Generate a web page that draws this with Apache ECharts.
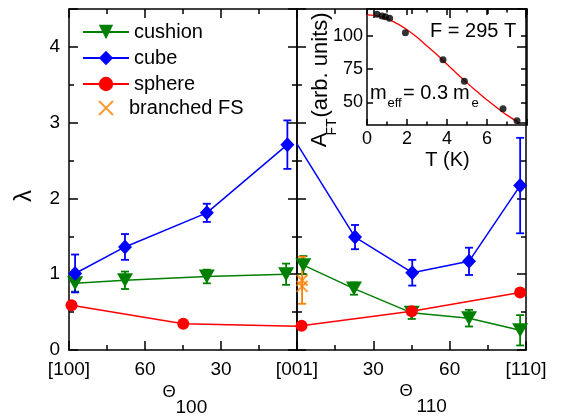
<!DOCTYPE html>
<html><head><meta charset="utf-8">
<script src="https://cdn.jsdelivr.net/npm/echarts@6/dist/echarts.min.js"></script>
<style>html,body{margin:0;padding:0;background:#fff}#c{width:569px;height:416px}</style>
</head><body><div id="c"></div>
<script>
const FONT = '"Liberation Sans", Arial, sans-serif';
// ---- Left panel (Theta_100, degrees) ----
const cushionL_theta = [87.6, 67.9, 35.6, 4.3];
const cushionL_val   = [0.88, 0.92, 0.97, 1.0];
const cushionL_err   = [0.11, 0.115, 0.09, 0.14];
const cubeL_theta = [87.6, 67.9, 35.6, 3.8];
const cubeL_val   = [1.01, 1.36, 1.81, 2.71];
const cubeL_err   = [0.25, 0.17, 0.12, 0.32];
const sphereL_theta = [89, 44.9, 0];
const sphereL_val   = [0.59, 0.345, 0.315];
const sphereL_shown = [true, true, false];
// ---- Right panel (Theta_110, degrees) ----
const cushionR_theta = [2.5, 22.4, 45.1, 67.6, 87.7];
const cushionR_val   = [1.12, 0.81, 0.49, 0.42, 0.26];
const cushionR_err   = [0.12, 0.08, 0.08, 0.11, 0.2];
const cubeR_theta = [0, 22.8, 45.3, 67.6, 87.7];
const cubeR_val   = [2.72, 1.49, 1.02, 1.17, 2.17];
const cubeR_err   = [0, 0.16, 0.17, 0.18, 0.63];
const cubeR_shown = [false, true, true, true, true];
const sphereR_theta = [1.8, 45.1, 87.7];
const sphereR_val   = [0.32, 0.51, 0.76];
const branched_theta = [2, 2];
const branched_val   = [0.92, 0.84];
const branched_err   = [0.31, 0];
// ---- Inset: A_FT vs T ----
const insetT = [0.5, 0.75, 0.92, 1.13, 1.92, 3.8, 4.87, 6.8, 7.5];
const insetA = [116.1, 114.8, 114.1, 113.1, 102.2, 82, 65.9, 45.1, 36.2];
const fitT = [0, 0.5, 1, 1.5, 2, 2.5, 3, 3.5, 4, 4.5, 5, 5.5, 6, 6.5, 7, 7.6];
const fitA = [115.6, 114.8, 112.7, 109.1, 104.5, 98.8, 92.2, 85.7, 78.5, 71.5, 64.6, 58.1, 51.8, 45.9, 40.4, 34.7];
// ---- Tick labels ----
const xLeftLabels  = {90: '[100]', 60: '60', 30: '30', 0: '[001]'};
const xRightLabels = {0: '', 30: '30', 60: '60', 90: '[110]'};
const yLabels = [0, 1, 2, 3, 4];
const insetYLabels = [50, 75, 100];
const insetXLabels = [0, 2, 4, 6];

const GREEN = '#007f00', BLUE = '#0000ff', RED = '#ff0000', ORANGE = '#ff8000';
const TRI = 'path://M0,0L16,0L8,14Z';
const XSYM = 'path://M0,0L10,10M10,0L0,10';

function pts(t, v, shown) {
  return t.map((x, i) => (shown && !shown[i]) ? {value: [x, v[i]], symbol: 'none'} : [x, v[i]]);
}
function errPts(t, v, e) { return t.map((x, i) => [x, v[i], e[i]]); }
function errRender(color) {
  return function (params, api) {
    const x = api.value(0), y = api.value(1), e = api.value(2);
    if (!e) return null;
    const a = api.coord([x, y + e]), b = api.coord([x, y - e]);
    const w = 4, st = {stroke: color, lineWidth: 1.8};
    return {type: 'group', children: [
      {type: 'line', shape: {x1: a[0], y1: a[1], x2: b[0], y2: b[1]}, style: st},
      {type: 'line', shape: {x1: a[0] - w, y1: a[1], x2: a[0] + w, y2: a[1]}, style: st},
      {type: 'line', shape: {x1: b[0] - w, y1: b[1], x2: b[0] + w, y2: b[1]}, style: st}
    ]};
  };
}
function errSeries(xi, yi, t, v, e, color) {
  return {type: 'custom', xAxisIndex: xi, yAxisIndex: yi, data: errPts(t, v, e),
    encode: {x: 0, y: 1}, renderItem: errRender(color), z: 1, silent: true};
}
function lineSeries(name, xi, yi, data, color, symbol, size) {
  return {type: 'line', name, xAxisIndex: xi, yAxisIndex: yi, data, color,
    symbol, symbolSize: size, lineStyle: {width: 1.5, color}, itemStyle: {color},
    z: 3, clip: true};
}

const axLine = {show: true, onZero: false, lineStyle: {color: '#000', width: 1.5}};
const tickStyle = {color: '#000', width: 1.5};
function xAx(grid, opts) {
  return Object.assign({type: 'value', gridIndex: grid, splitLine: {show: false},
    axisLine: axLine, axisTick: {inside: true, length: 9, lineStyle: tickStyle},
    minorTick: {show: true, splitNumber: 2, length: 5, lineStyle: tickStyle}}, opts);
}
const noLabel = {show: false};
const labelStyle = {color: '#000', fontSize: 19, fontFamily: FONT};

const option = {
  animation: false,
  backgroundColor: '#fff',
  grid: [
    {left: 69, top: 9, width: 228, height: 341},
    {left: 297, top: 9, width: 229, height: 341},
    {left: 367, top: 9, width: 160, height: 116, show: true, backgroundColor: '#fff', borderWidth: 0}
  ],
  xAxis: [
    xAx(0, {min: 0, max: 90, interval: 30, inverse: true,
      axisLabel: Object.assign({margin: 10, formatter: v => xLeftLabels[v] ?? ''}, labelStyle)}),
    xAx(0, {min: 0, max: 90, interval: 30, inverse: true, position: 'top', axisLabel: noLabel}),
    xAx(1, {min: 0, max: 90, interval: 30,
      axisLabel: Object.assign({margin: 10, formatter: v => xRightLabels[v] ?? ''}, labelStyle)}),
    xAx(1, {min: 0, max: 90, interval: 30, position: 'top', axisLabel: noLabel}),
    xAx(2, {min: 0, max: 8, interval: 2,
      axisTick: {inside: true, length: 6, lineStyle: tickStyle},
      minorTick: {show: true, splitNumber: 2, length: 3.5, lineStyle: tickStyle},
      axisLabel: Object.assign({}, labelStyle, {fontSize: 18, margin: 5,
        formatter: v => insetXLabels.includes(v) ? String(v) : ''})}),
    xAx(2, {min: 0, max: 8, interval: 2, position: 'top', axisLabel: noLabel,
      axisTick: {inside: true, length: 6, lineStyle: tickStyle},
      minorTick: {show: true, splitNumber: 2, length: 3.5, lineStyle: tickStyle}})
  ],
  yAxis: [
    xAx(0, {min: 0, max: 4.5, interval: 1, position: 'left',
      name: 'λ', nameLocation: 'middle', nameRotate: 90, nameGap: 33,
      nameTextStyle: {fontSize: 24, fontFamily: FONT, color: '#000', padding: [0, 33, 0, 0]},
      axisLabel: Object.assign({margin: 9, formatter: v => yLabels.includes(v) ? String(v) : ''}, labelStyle)}),
    xAx(0, {min: 0, max: 4.5, interval: 1, position: 'right', axisLabel: noLabel}),
    xAx(1, {min: 0, max: 4.5, interval: 1, position: 'left', axisLabel: noLabel}),
    xAx(1, {min: 0, max: 4.5, interval: 1, position: 'right', axisLabel: noLabel}),
    xAx(2, {min: 33, max: 120, position: 'left',
      axisTick: {inside: true, length: 6, lineStyle: tickStyle, customValues: insetYLabels},
      minorTick: {show: false},
      axisLabel: Object.assign({}, labelStyle, {fontSize: 18, margin: 4, customValues: insetYLabels})}),
    xAx(2, {min: 33, max: 120, position: 'right', axisLabel: noLabel,
      axisTick: {inside: true, length: 6, lineStyle: tickStyle, customValues: insetYLabels},
      minorTick: {show: false}})
  ],
  legend: [
    {data: ['cushion', 'cube', 'sphere'], orient: 'vertical', left: 82, top: 22, padding: 0,
      itemWidth: 46, itemHeight: 18, itemGap: 6, selectedMode: false,
      textStyle: {fontSize: 20, fontFamily: FONT, color: '#000', lineHeight: 20}},
    {data: [{name: 'branched FS', itemStyle: {color: 'rgba(0,0,0,0)', borderColor: ORANGE, borderWidth: 2}}],
      orient: 'vertical', left: 98, top: 98, padding: 0, itemWidth: 14, itemHeight: 14, selectedMode: false,
      textStyle: {fontSize: 20, fontFamily: FONT, color: '#000', lineHeight: 20, padding: [0, 0, 0, 11]}}
  ],
  series: [
    // error bars
    errSeries(0, 0, cushionL_theta, cushionL_val, cushionL_err, GREEN),
    errSeries(0, 0, cubeL_theta, cubeL_val, cubeL_err, BLUE),
    errSeries(2, 2, cushionR_theta, cushionR_val, cushionR_err, GREEN),
    errSeries(2, 2, cubeR_theta, cubeR_val, cubeR_err, BLUE),
    errSeries(2, 2, branched_theta, branched_val, branched_err, ORANGE),
    // left panel
    lineSeries('cushion', 0, 0, pts(cushionL_theta, cushionL_val), GREEN, TRI, [16, 14]),
    lineSeries('cube', 0, 0, pts(cubeL_theta, cubeL_val), BLUE, 'diamond', [14, 15]),
    lineSeries('sphere', 0, 0, pts(sphereL_theta, sphereL_val, sphereL_shown), RED, 'circle', 12),
    // right panel
    lineSeries('cushion', 2, 2, pts(cushionR_theta, cushionR_val), GREEN, TRI, [16, 14]),
    lineSeries('cube', 2, 2, pts(cubeR_theta, cubeR_val, cubeR_shown), BLUE, 'diamond', [14, 15]),
    lineSeries('sphere', 2, 2, pts(sphereR_theta, sphereR_val), RED, 'circle', 12),
    {type: 'scatter', name: 'branched FS', xAxisIndex: 2, yAxisIndex: 2,
      data: pts(branched_theta, branched_val), symbol: XSYM, symbolSize: 11,
      itemStyle: {color: 'rgba(0,0,0,0)', borderColor: ORANGE, borderWidth: 2}, z: 4},
    // inset
    {type: 'line', xAxisIndex: 4, yAxisIndex: 4, data: pts(fitT, fitA), smooth: true,
      symbol: 'none', lineStyle: {color: RED, width: 1.3}, z: 3, silent: true},
    {type: 'scatter', xAxisIndex: 4, yAxisIndex: 4, data: pts(insetT, insetA),
      symbol: 'circle', symbolSize: 7, itemStyle: {color: '#000'}, z: 4, silent: true}
  ],
  graphic: [
    {type: 'text', x: 169, y: 392.5,
      style: {text: 'Θ', font: '17px ' + FONT, fill: '#000', align: 'center', verticalAlign: 'middle'}},
    {type: 'text', x: 175.5, y: 407.5,
      style: {text: '100', font: '19px ' + FONT, fill: '#000', align: 'left', verticalAlign: 'middle'}},
    {type: 'text', x: 406, y: 391.5,
      style: {text: 'Θ', font: '17px ' + FONT, fill: '#000', align: 'center', verticalAlign: 'middle'}},
    {type: 'text', x: 416.5, y: 407,
      style: {text: '110', font: '19px ' + FONT, fill: '#000', align: 'left', verticalAlign: 'middle'}},
    {type: 'text', x: 447.5, y: 160.5,
      style: {text: 'T (K)', font: '20px ' + FONT, fill: '#000', align: 'center', verticalAlign: 'middle'}},
    {type: 'text', x: 430, y: 31.7, z: 10,
      style: {text: 'F = 295 T', font: '20px ' + FONT, fill: '#000', align: 'left', verticalAlign: 'middle'}},
    {type: 'text', x: 370, y: 93, z: 10,
      style: {text: 'm', font: '20px ' + FONT, fill: '#000', align: 'left', verticalAlign: 'middle'}},
    {type: 'text', x: 387.5, y: 103.5, z: 10,
      style: {text: 'eff', font: '13px ' + FONT, fill: '#000', align: 'left', verticalAlign: 'middle'}},
    {type: 'text', x: 403, y: 93, z: 10,
      style: {text: '= 0.3', font: '20px ' + FONT, fill: '#000', align: 'left', verticalAlign: 'middle'}},
    {type: 'text', x: 453, y: 93, z: 10,
      style: {text: 'm', font: '20px ' + FONT, fill: '#000', align: 'left', verticalAlign: 'middle'}},
    {type: 'text', x: 471.5, y: 103.5, z: 10,
      style: {text: 'e', font: '13px ' + FONT, fill: '#000', align: 'left', verticalAlign: 'middle'}},
    {type: 'text', x: 320, y: 140, rotation: Math.PI / 2, z: 10,
      style: {text: 'A', font: '22px ' + FONT, fill: '#000', align: 'center', verticalAlign: 'middle'}},
    {type: 'text', x: 332.5, y: 127, rotation: Math.PI / 2, z: 10,
      style: {text: 'FT', font: '14px ' + FONT, fill: '#000', align: 'center', verticalAlign: 'middle'}},
    {type: 'text', x: 321, y: 65, rotation: Math.PI / 2, z: 10,
      style: {text: '(arb. units)', font: '22px ' + FONT, fill: '#000', align: 'center', verticalAlign: 'middle'}}
  ]
};
const chart = echarts.init(document.getElementById('c'), null, {renderer: 'canvas'});
chart.setOption(option);
</script>
</body></html>
